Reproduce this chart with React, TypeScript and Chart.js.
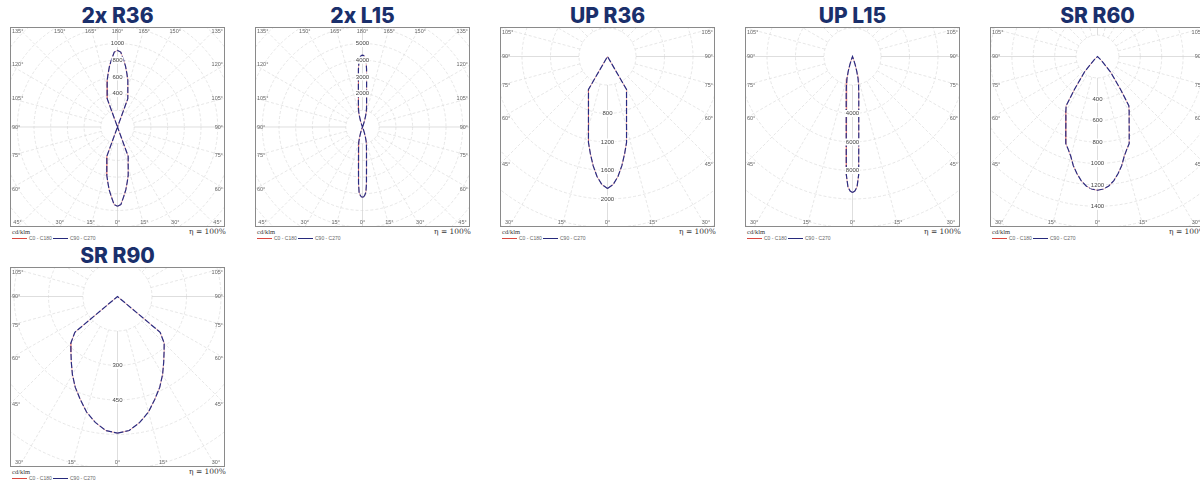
import React, { useEffect, useRef } from "react";
import { Chart, registerables } from "chart.js";

Chart.register(...registerables);

// ---------- data (cd/klm vs gamma angle in degrees) ----------
const TITLES = ["2x R36", "2x L15", "UP R36", "UP L15", "SR R60", "SR R90"];

const G_2X_R36 = [0, 2.5, 5, 7.5, 10, 12.5, 15, 17.5, 20, 25, 155, 160, 162.5, 165, 167.5, 170, 172.5, 175, 177.5, 180];
const I_2X_R36 = [950, 930, 840, 760, 670, 592, 495, 425, 374, 0, 0, 361, 411, 478, 572, 648, 735, 812, 898, 918];

const G_2X_L15 = [0, 1, 2, 3, 4, 5, 6, 7, 8, 9, 10, 12, 14, 16, 18, 20, 22, 158, 160, 162, 164, 166, 168, 170, 171, 172, 173, 174, 175, 176, 177, 178, 179, 180];
const I_2X_L15 = [4200, 4180, 4080, 3900, 3400, 2750, 2300, 1970, 1720, 1530, 1380, 1130, 900, 640, 380, 140, 0, 0, 145, 390, 655, 920, 1160, 1410, 1570, 1760, 2020, 2350, 2820, 3480, 3990, 4180, 4280, 4300];

const G_UP_R36 = [0, 2.5, 5, 7.5, 10, 12.5, 15, 17.5, 20, 22.5, 25, 27.5, 30, 35, 90];
const I_UP_R36 = [1853, 1800, 1690, 1545, 1385, 1235, 1032, 888, 781, 698, 632, 578, 534, 0, 0];

const G_UP_L15 = [0, 1, 2, 3, 4, 5, 6, 7, 8, 9, 10, 12, 14, 16, 18, 20, 22, 90];
const I_UP_L15 = [9540, 9450, 9150, 8300, 6300, 5060, 4200, 3620, 3170, 2820, 2530, 2050, 1600, 1100, 600, 200, 0, 0];

const G_SR_R60 = [0, 2.5, 5, 7.5, 10, 12.5, 15, 17.5, 20, 22.5, 25, 27.5, 30, 32.5, 35, 40, 45, 50, 90];
const I_SR_R60 = [1250, 1240, 1215, 1170, 1110, 1045, 965, 910, 866, 775, 700, 640, 592, 545, 374, 190, 50, 0, 0];

const G_SR_R90 = [0, 5, 10, 15, 20, 25, 30, 35, 40, 45, 50, 55, 90];
const I_SR_R90 = [594, 585, 556, 520, 475, 435, 392, 350, 315, 287, 242, 0, 0];

// intensity ring labels per panel
const LABELS_2X_R36 = [400, 600, 800, 1000];
const LABELS_2X_L15 = [2000, 3000, 4000, 5000];
const LABELS_UP_R36 = [800, 1200, 1600, 2000];
const LABELS_UP_L15 = [4000, 6000, 8000];
const LABELS_SR_R60 = [400, 600, 800, 1000, 1200, 1400];
const LABELS_SR_R90 = [300, 450];

// ring step (cd/klm per ring)
const STEPS = [200, 1000, 400, 2000, 200, 150];

const ANGLES_FULL = [0, 15, 30, 45, 60, 75, 90, 105, 120, 135, 150, 165, 180];
const ANGLES_HALF = [0, 15, 30, 45, 60, 75, 90, 105];

const LEGEND_C0 = "C0 - C180";
const LEGEND_C90 = "C90 - C270";
const UNIT = "cd/klm";
const EFF = "η = 100%";

// ---------- layout ----------
const W = 215;
const H = 200;
const NAVY = "#1a2f6b";
const RED = "rgba(214,80,80,0.55)";
const BLUE = "#2b2d82";

type Cfg = {
  title: string;
  left: number;
  top: number;
  half: boolean;
  step: number;
  spacing: number;
  labels: number[];
  gamma: number[];
  c0: number[];
  c90: number[];
};

const PANELS: Cfg[] = [
  { title: TITLES[0], left: 10, top: 27, half: false, step: STEPS[0], spacing: 16.7, labels: LABELS_2X_R36, gamma: G_2X_R36, c0: I_2X_R36, c90: I_2X_R36 },
  { title: TITLES[1], left: 255, top: 27, half: false, step: STEPS[1], spacing: 16.7, labels: LABELS_2X_L15, gamma: G_2X_L15, c0: I_2X_L15, c90: I_2X_L15 },
  { title: TITLES[2], left: 500, top: 27, half: true, step: STEPS[2], spacing: 28.5, labels: LABELS_UP_R36, gamma: G_UP_R36, c0: I_UP_R36, c90: I_UP_R36 },
  { title: TITLES[3], left: 745, top: 27, half: true, step: STEPS[3], spacing: 28.5, labels: LABELS_UP_L15, gamma: G_UP_L15, c0: I_UP_L15, c90: I_UP_L15 },
  { title: TITLES[4], left: 990, top: 27, half: true, step: STEPS[4], spacing: 21.4, labels: LABELS_SR_R60, gamma: G_SR_R60, c0: I_SR_R60, c90: I_SR_R60 },
  { title: TITLES[5], left: 10, top: 267, half: true, step: STEPS[5], spacing: 34.5, labels: LABELS_SR_R90, gamma: G_SR_R90, c0: I_SR_R90, c90: I_SR_R90 },
];

function loop(g: number[], v: number[]) {
  const pts: { x: number; y: number }[] = [];
  for (let i = 0; i < g.length; i++) {
    const a = (g[i] * Math.PI) / 180;
    pts.push({ x: v[i] * Math.sin(a), y: -v[i] * Math.cos(a) });
  }
  for (let i = g.length - 1; i >= 0; i--) {
    const a = (g[i] * Math.PI) / 180;
    pts.push({ x: -v[i] * Math.sin(a), y: -v[i] * Math.cos(a) });
  }
  return pts;
}

function makePlugin(cfg: Cfg) {
  return {
    id: "polarGrid",
    beforeDatasetsDraw(chart: any) {
      const { ctx, chartArea: ca, scales } = chart;
      const xs = scales.x;
      const ys = scales.y;
      const cx = xs.getPixelForValue(0);
      const cy = ys.getPixelForValue(0);
      const ring = xs.getPixelForValue(cfg.step) - cx;
      ctx.save();
      ctx.beginPath();
      ctx.rect(ca.left, ca.top, ca.right - ca.left, ca.bottom - ca.top);
      ctx.clip();
      ctx.fillStyle = "#ffffff";
      ctx.fillRect(ca.left, ca.top, ca.right - ca.left, ca.bottom - ca.top);
      const maxR = Math.hypot(Math.max(cx - ca.left, ca.right - cx), Math.max(cy - ca.top, ca.bottom - cy));
      ctx.lineWidth = 0.7;
      ctx.strokeStyle = "#dcdcdc";
      ctx.setLineDash([3, 2]);
      for (let k = 1; (k - 1) * ring < maxR; k++) {
        ctx.beginPath();
        ctx.arc(cx, cy, k * ring, 0, Math.PI * 2);
        ctx.stroke();
      }
      for (let a = 0; a < 360; a += 15) {
        const rad = (a * Math.PI) / 180;
        const dx = Math.sin(rad);
        const dy = Math.cos(rad);
        const solid = a % 90 === 0;
        ctx.setLineDash(solid ? [] : [3, 2]);
        ctx.strokeStyle = solid ? "#d0d0d0" : "#dcdcdc";
        ctx.beginPath();
        ctx.moveTo(cx + dx * ring, cy + dy * ring);
        ctx.lineTo(cx + dx * maxR * 1.3, cy + dy * maxR * 1.3);
        ctx.stroke();
      }
      ctx.restore();
    },
    afterDatasetsDraw(chart: any) {
      const { ctx, chartArea: ca, scales } = chart;
      const xs = scales.x;
      const ys = scales.y;
      const cx = xs.getPixelForValue(0);
      const cy = ys.getPixelForValue(0);
      ctx.save();
      // intensity labels
      ctx.font = '6px "Liberation Sans", Arial, sans-serif';
      ctx.textAlign = "center";
      ctx.textBaseline = "middle";
      cfg.labels.forEach((v) => {
        const y = cfg.half ? ys.getPixelForValue(-v) : ys.getPixelForValue(v);
        const t = String(v);
        const w = ctx.measureText(t).width + 2;
        ctx.fillStyle = "#ffffff";
        ctx.fillRect(cx - w / 2, y - 3.5, w, 7);
        ctx.fillStyle = "#444444";
        ctx.fillText(t, cx, y);
      });
      // angle labels
      ctx.font = '5.5px "Liberation Sans", Arial, sans-serif';
      ctx.fillStyle = "#666666";
      const angles = cfg.half ? ANGLES_HALF : ANGLES_FULL;
      const hw = (ca.right - ca.left) / 2;
      angles.forEach((a) => {
        const sides = a === 0 || a === 180 ? [1] : [-1, 1];
        sides.forEach((s) => {
          const rad = (a * Math.PI) / 180;
          const dx = Math.sin(rad);
          const dy = Math.cos(rad);
          const tx = dx > 1e-6 ? hw / dx : Infinity;
          const ty = dy > 1e-6 ? (ca.bottom - cy) / dy : dy < -1e-6 ? (cy - ca.top) / -dy : Infinity;
          const t = `${a}°`;
          const w = ctx.measureText(t).width;
          let x: number, y: number;
          if (tx < ty) {
            y = cy + dy * tx;
            y = Math.min(Math.max(y, ca.top + 5), ca.bottom - 5);
            ctx.textBaseline = "middle";
            if (s < 0) {
              ctx.textAlign = "left";
              x = ca.left + 2;
            } else {
              ctx.textAlign = "right";
              x = ca.right - 2;
            }
          } else {
            x = cx + s * dx * ty;
            x = Math.min(Math.max(x, ca.left + 2 + w / 2), ca.right - 2 - w / 2);
            ctx.textAlign = "center";
            if (dy > 0) {
              ctx.textBaseline = "bottom";
              y = ca.bottom - 1.5;
            } else {
              ctx.textBaseline = "top";
              y = ca.top + 2;
            }
          }
          ctx.fillText(t, x, y);
        });
      });
      // border
      ctx.setLineDash([]);
      ctx.strokeStyle = "#8a8a8a";
      ctx.lineWidth = 1;
      ctx.strokeRect(ca.left + 0.5, ca.top + 0.5, ca.right - ca.left - 1, ca.bottom - ca.top - 1);
      ctx.restore();
    },
  };
}

function Panel({ cfg }: { cfg: Cfg }) {
  const ref = useRef<HTMLCanvasElement | null>(null);
  useEffect(() => {
    if (!ref.current) return;
    const ppc = cfg.spacing / cfg.step;
    const cyPx = cfg.half ? 29.5 : H / 2;
    const chart = new Chart(ref.current, {
      type: "scatter",
      data: {
        datasets: [
          {
            label: LEGEND_C0,
            data: loop(cfg.gamma, cfg.c0),
            showLine: true,
            borderColor: RED,
            borderWidth: 0.8,
            pointRadius: 0,
            tension: 0,
            fill: false,
            order: 2,
          },
          {
            label: LEGEND_C90,
            data: loop(cfg.gamma, cfg.c90),
            showLine: true,
            borderColor: BLUE,
            borderWidth: 1.2,
            borderDash: [6, 2],
            pointRadius: 0,
            tension: 0,
            fill: false,
            order: 1,
          },
        ],
      },
      options: {
        animation: false,
        responsive: false,
        maintainAspectRatio: false,
        devicePixelRatio: 1,
        events: [],
        layout: { padding: 0 },
        plugins: { legend: { display: false }, tooltip: { enabled: false }, title: { display: false } },
        scales: {
          x: { type: "linear", display: false, min: -(W / 2) / ppc, max: W / 2 / ppc },
          y: { type: "linear", display: false, min: -(H - cyPx) / ppc, max: cyPx / ppc },
        },
      },
      plugins: [makePlugin(cfg)],
    } as any);
    return () => chart.destroy();
  }, [cfg]);

  const L = cfg.left;
  const T = cfg.top;
  return (
    <>
      <div
        style={{
          position: "absolute",
          left: L,
          top: T - 22.5,
          width: W,
          textAlign: "center",
          font: '800 21px Inter, Lato, "Open Sans", sans-serif',
          lineHeight: "21px",
          color: NAVY,
          whiteSpace: "nowrap",
        }}
      >
        {cfg.title}
      </div>
      <canvas ref={ref} width={W} height={H} style={{ position: "absolute", left: L, top: T, width: W, height: H }} />
      <div style={{ position: "absolute", left: L + 2, top: T + H + 1, font: '6.5px "Liberation Serif", serif', lineHeight: "8px", color: "#333" }}>
        {UNIT}
      </div>
      <div style={{ position: "absolute", left: L, top: T + H + 0.5, width: W + 1, textAlign: "right", font: '7.5px "DejaVu Serif", "Liberation Serif", serif', lineHeight: "8px", color: "#333" }}>
        {EFF}
      </div>
      <div style={{ position: "absolute", left: L + 2, top: T + H + 11, width: 15, height: 0, borderTop: "1px solid #d9463f" }} />
      <div style={{ position: "absolute", left: L + 19, top: T + H + 8, font: '5px "Liberation Sans", sans-serif', lineHeight: "7px", color: "#666", whiteSpace: "nowrap" }}>
        {LEGEND_C0}
      </div>
      <div style={{ position: "absolute", left: L + 43, top: T + H + 11, width: 15, height: 0, borderTop: "1px solid #272a7c" }} />
      <div style={{ position: "absolute", left: L + 60, top: T + H + 8, font: '5px "Liberation Sans", sans-serif', lineHeight: "7px", color: "#666", whiteSpace: "nowrap" }}>
        {LEGEND_C90}
      </div>
    </>
  );
}

export default function App() {
  return (
    <div style={{ position: "fixed", left: 0, top: 0, width: 1200, height: 481, overflow: "hidden", background: "#fff" }}>
      {PANELS.map((p) => (
        <Panel key={p.title} cfg={p} />
      ))}
    </div>
  );
}
